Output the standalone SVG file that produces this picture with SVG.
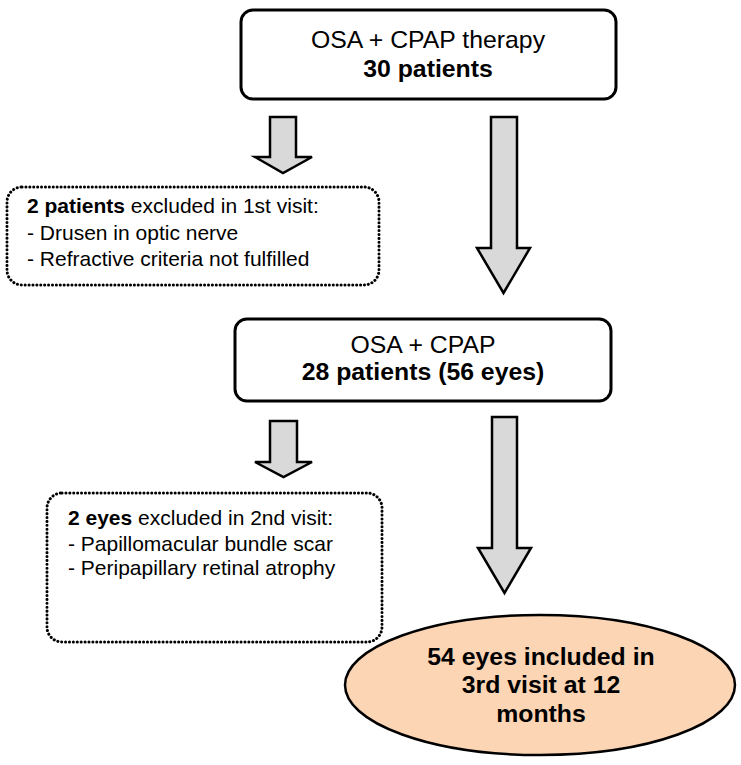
<svg xmlns="http://www.w3.org/2000/svg" width="741" height="765" viewBox="0 0 741 765">
<style>
.box{fill:#fff;stroke:#000;stroke-width:3}
.dot{fill:#fff;stroke:#000;stroke-width:3;stroke-dasharray:0.1 3.8;stroke-linecap:round}
.arr{fill:#d9d9d9;stroke:#000;stroke-width:2.5;stroke-linejoin:miter}
text{font-family:"Liberation Sans",Arial,sans-serif;fill:#000}
.c{text-anchor:middle;font-size:24.8px}
.l{font-size:21px}
.b{font-weight:bold}
</style>
<rect width="741" height="765" fill="#fff"/>
<g id="connectors">
<polygon class="arr" points="270,117 296,117 296,157 312,157 283,173 255,157 270,157"/>
<polygon class="arr" points="491,117 517,117 517,248 530,248 503.5,293 477,248 491,248"/>
<polygon class="arr" points="270,421 297,421 297,462 312,462 283.5,477 255,462 270,462"/>
<polygon class="arr" points="492,417 517,417 517,548 531,548 504.5,593 478,548 492,548"/>
</g>
<g id="n1">
<rect class="box" x="241" y="10" width="375" height="89" rx="12"/>
<text class="c" x="428" y="48">OSA + CPAP therapy</text>
<text class="c b" x="428" y="77">30 patients</text>
</g>
<g id="n2">
<rect class="dot" x="7" y="187" width="372" height="98" rx="15"/>
<text class="l" x="27" y="213"><tspan class="b">2 patients</tspan> excluded in 1st visit:</text>
<text class="l" x="27" y="240">- Drusen in optic nerve</text>
<text class="l" x="27" y="266">- Refractive criteria not fulfilled</text>
</g>
<g id="n3">
<rect class="box" x="235" y="319" width="376" height="82" rx="12"/>
<text class="c" x="423" y="353">OSA + CPAP</text>
<text class="c b" x="423" y="380">28 patients (56 eyes)</text>
</g>
<g id="n4">
<rect class="dot" x="47" y="493" width="335" height="149" rx="15"/>
<text class="l" x="68" y="525"><tspan class="b">2 eyes</tspan> excluded in 2nd visit:</text>
<text class="l" x="68" y="551">- Papillomacular bundle scar</text>
<text class="l" x="68" y="575">- Peripapillary retinal atrophy</text>
</g>
<g id="n5">
<ellipse cx="540" cy="685" rx="195" ry="70" fill="#fcd5b4" stroke="#000" stroke-width="2.5"/>
<text class="c b" x="541" y="665">54 eyes included in</text>
<text class="c b" x="541" y="693">3rd visit at 12</text>
<text class="c b" x="541" y="722">months</text>
</g>
</svg>
